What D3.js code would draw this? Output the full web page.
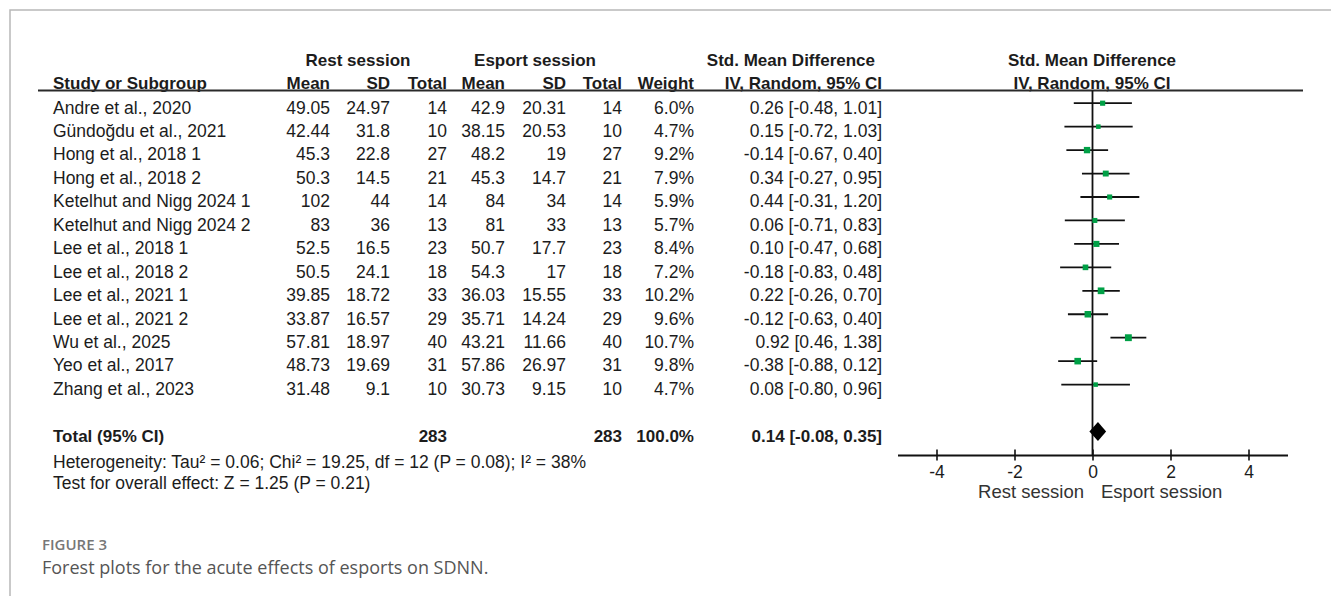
<!DOCTYPE html>
<html>
<head>
<meta charset="utf-8">
<script src="https://cdn.jsdelivr.net/npm/d3@7"></script>
<style>
  html, body { margin: 0; padding: 0; background: #fff; }
  svg { display: block; }
  .tbl { font-family: "Liberation Sans", Arial, sans-serif; font-size: 17.5px; fill: #1c1c1c; }
  .bold { font-weight: bold; font-size: 17px; }
  .cap { font-family: "Open Sans", "Noto Sans", sans-serif; }
</style>
</head>
<body>
<svg id="chart" width="1331" height="596"></svg>
<script>
// ---- Study-level data (SDNN, rest vs esport session) ----
const studies = [
  "Andre et al., 2020", "Gündoğdu et al., 2021", "Hong et al., 2018 1", "Hong et al., 2018 2",
  "Ketelhut and Nigg 2024 1", "Ketelhut and Nigg 2024 2", "Lee et al., 2018 1", "Lee et al., 2018 2",
  "Lee et al., 2021 1", "Lee et al., 2021 2", "Wu et al., 2025", "Yeo et al., 2017", "Zhang et al., 2023"
];
const restMean = [49.05, 42.44, 45.3, 50.3, 102, 83, 52.5, 50.5, 39.85, 33.87, 57.81, 48.73, 31.48];
const restSD   = [24.97, 31.8, 22.8, 14.5, 44, 36, 16.5, 24.1, 18.72, 16.57, 18.97, 19.69, 9.1];
const restN    = [14, 10, 27, 21, 14, 13, 23, 18, 33, 29, 40, 31, 10];
const espMean  = [42.9, 38.15, 48.2, 45.3, 84, 81, 50.7, 54.3, 36.03, 35.71, 43.21, 57.86, 30.73];
const espSD    = [20.31, 20.53, 19, 14.7, 34, 33, 17.7, 17, 15.55, 14.24, 11.66, 26.97, 9.15];
const espN     = [14, 10, 27, 21, 14, 13, 23, 18, 33, 29, 40, 31, 10];
const weight   = [6.0, 4.7, 9.2, 7.9, 5.9, 5.7, 8.4, 7.2, 10.2, 9.6, 10.7, 9.8, 4.7];
const smd      = [0.26, 0.15, -0.14, 0.34, 0.44, 0.06, 0.10, -0.18, 0.22, -0.12, 0.92, -0.38, 0.08];
const ciLow    = [-0.48, -0.72, -0.67, -0.27, -0.31, -0.71, -0.47, -0.83, -0.26, -0.63, 0.46, -0.88, -0.80];
const ciHigh   = [1.01, 1.03, 0.40, 0.95, 1.20, 0.83, 0.68, 0.48, 0.70, 0.40, 1.38, 0.12, 0.96];

// ---- Pooled estimate ----
const totalRestN = 283;
const totalEspN = 283;
const totalWeight = 100.0;
const pooled = { est: 0.14, lo: -0.08, hi: 0.35 };
const heterogeneityText = "Heterogeneity: Tau² = 0.06; Chi² = 19.25, df = 12 (P = 0.08); I² = 38%";
const overallText = "Test for overall effect: Z = 1.25 (P = 0.21)";

// ---- Axis ----
const axisDomain = [-5, 5];
const axisTicks = [-4, -2, 0, 2, 4];
const favoursLeft = "Rest session";
const favoursRight = "Esport session";

const figLabel = "FIGURE 3";
const figCaption = "Forest plots for the acute effects of esports on SDNN.";

const svg = d3.select("#chart");
svg.append("rect").attr("width", 1331).attr("height", 596).attr("fill", "#fff");

// panel border (top and left edges)
svg.append("path")
  .attr("d", "M10,596V10H1331")
  .attr("fill", "none").attr("stroke", "#b8b8b8").attr("stroke-width", 1.5);

// row geometry
const rowBase = 113.5, rowStep = 23.45;
const baseline = i => rowBase + rowStep * i;
const markY = i => baseline(i) - 10.3;

// column right edges
const col = {
  study: 53, restMean: 330, restSD: 390, restN: 447,
  espMean: 505, espSD: 566, espN: 622, weight: 694, ci: 882
};

const x = d3.scaleLinear().domain(axisDomain).range([897.5, 1287.5]);
const axisY = 455;
const ruleY = 90.5;

const t = svg.append("g").attr("class", "tbl");

function txt(s, xx, yy, anchor, bold) {
  return t.append("text").attr("x", xx).attr("y", yy)
    .attr("text-anchor", anchor || "end")
    .attr("class", bold ? "bold" : null)
    .text(s);
}

// headers
txt("Rest session", 358, 66, "middle", true);
txt("Esport session", 535, 66, "middle", true);
txt("Std. Mean Difference", 875, 66, "end", true);
txt("Std. Mean Difference", x(0) - 0.5, 66, "middle", true);

txt("Study or Subgroup", col.study, 88.5, "start", true);
txt("Mean", col.restMean, 88.5, "end", true);
txt("SD", col.restSD, 88.5, "end", true);
txt("Total", col.restN, 88.5, "end", true);
txt("Mean", col.espMean, 88.5, "end", true);
txt("SD", col.espSD, 88.5, "end", true);
txt("Total", col.espN, 88.5, "end", true);
txt("Weight", col.weight, 88.5, "end", true);
txt("IV, Random, 95% CI", col.ci, 88.5, "end", true);
txt("IV, Random, 95% CI", x(0) - 0.5, 88.5, "middle", true);

svg.append("line")
  .attr("x1", 38).attr("x2", 1303).attr("y1", ruleY).attr("y2", ruleY)
  .attr("stroke", "#2a2a2a").attr("stroke-width", 1.8);

const fmtCI = (e, l, h) => `${e.toFixed(2)} [${l.toFixed(2)}, ${h.toFixed(2)}]`;

// study rows
studies.forEach((s, i) => {
  const yb = baseline(i);
  txt(s, col.study, yb, "start");
  txt(String(restMean[i]), col.restMean, yb);
  txt(String(restSD[i]), col.restSD, yb);
  txt(String(restN[i]), col.restN, yb);
  txt(String(espMean[i]), col.espMean, yb);
  txt(String(espSD[i]), col.espSD, yb);
  txt(String(espN[i]), col.espN, yb);
  txt(weight[i].toFixed(1) + "%", col.weight, yb);
  txt(fmtCI(smd[i], ciLow[i], ciHigh[i]), col.ci, yb);
});

// total row
const totRow = studies.length + 1;
txt("Total (95% CI)", col.study, baseline(totRow), "start", true);
txt(String(totalRestN), col.restN, baseline(totRow), "end", true);
txt(String(totalEspN), col.espN, baseline(totRow), "end", true);
txt(totalWeight.toFixed(1) + "%", col.weight, baseline(totRow), "end", true);
txt(fmtCI(pooled.est, pooled.lo, pooled.hi), col.ci, baseline(totRow), "end", true);

txt(heterogeneityText, col.study, 468, "start");
txt(overallText, col.study, 489, "start");

// line of no effect
svg.append("line")
  .attr("x1", x(0)).attr("x2", x(0)).attr("y1", ruleY).attr("y2", axisY)
  .attr("stroke", "#111").attr("stroke-width", 1.8);

// confidence intervals
const plot = svg.append("g");
plot.selectAll("line.ci").data(studies).join("line")
  .attr("class", "ci")
  .attr("x1", (d, i) => x(ciLow[i])).attr("x2", (d, i) => x(ciHigh[i]))
  .attr("y1", (d, i) => markY(i)).attr("y2", (d, i) => markY(i))
  .attr("stroke", "#111").attr("stroke-width", 1.8);

// weighted point estimates (area proportional to weight)
const half = w => 1.05 * Math.sqrt(w);
plot.selectAll("rect.pt").data(studies).join("rect")
  .attr("class", "pt")
  .attr("x", (d, i) => x(smd[i]) - half(weight[i]))
  .attr("y", (d, i) => markY(i) - half(weight[i]))
  .attr("width", (d, i) => 2 * half(weight[i]))
  .attr("height", (d, i) => 2 * half(weight[i]))
  .attr("fill", "#00a046");

// pooled diamond
const dy = markY(totRow);
plot.append("path")
  .attr("d", `M${x(pooled.lo)},${dy}L${x(pooled.est)},${dy - 9.5}L${x(pooled.hi)},${dy}L${x(pooled.est)},${dy + 9.5}Z`)
  .attr("fill", "#000");

// bottom axis
const ax = svg.append("g").attr("transform", `translate(0,${axisY})`)
  .call(d3.axisBottom(x).tickValues(axisTicks).tickSize(6).tickSizeOuter(0).tickFormat(d => String(d)));
ax.select(".domain").attr("stroke", "#111").attr("stroke-width", 1.8);
ax.selectAll(".tick line").attr("y1", -5.5).attr("y2", 5.5).attr("stroke", "#111").attr("stroke-width", 1.6);
ax.selectAll(".tick text")
  .attr("y", 23).attr("dy", 0)
  .attr("font-family", "\"Liberation Sans\", Arial, sans-serif")
  .attr("font-size", 17.5).attr("fill", "#1c1c1c");

txt(favoursLeft, x(0) - 8.5, 498, "end").attr("fill", "#333").style("font-size", "18.5px");
txt(favoursRight, x(0) + 8.5, 498, "start").attr("fill", "#333").style("font-size", "18.5px");

// figure caption
svg.append("text").attr("class", "cap").attr("x", 42).attr("y", 549.5)
  .attr("font-size", 15).attr("font-weight", 600).attr("fill", "#777").text(figLabel);
svg.append("text").attr("class", "cap").attr("x", 42).attr("y", 573.5)
  .attr("font-size", 18).attr("fill", "#555").text(figCaption);
</script>
</body>
</html>
